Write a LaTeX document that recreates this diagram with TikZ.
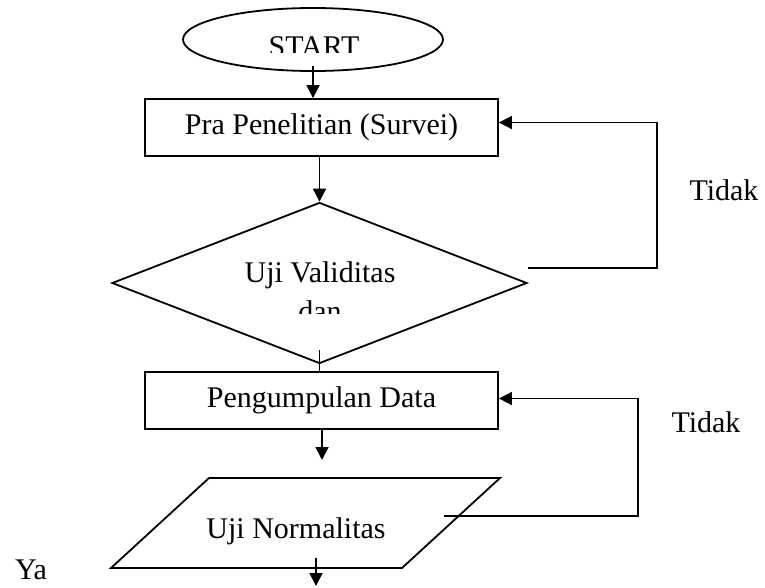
\documentclass[tikz,border=0pt]{standalone}
\usepackage{fontspec}
\setmainfont{Liberation Serif}
\usetikzlibrary{arrows.meta}
\usetikzlibrary{shapes.geometric}

\tikzset{
  procbox/.style={draw, rectangle, minimum width=353pt, minimum height=57pt, inner sep=0pt},
  lbl/.style={anchor=base, inner sep=0pt},
}

\begin{document}
\begin{tikzpicture}[x=1pt,y=-1pt,line width=1.8pt,>={Triangle[length=13pt,width=13pt]},font=\fontsize{30}{36}\selectfont]
      \useasboundingbox (0,0) rectangle (765,587);
      \node[draw,ellipse,minimum width=260pt,minimum height=63pt,inner sep=0pt] (start) at (313,39.5) {};
      \begin{scope}
        \clip (183,8) rectangle (443,52);
        \node[lbl] (starttext) at (314,56) {START};
      \end{scope}
      \node[procbox] (pra) at (321.5,127.5) {Pra Penelitian (Survei)};
      \node[draw,diamond,aspect=2.58,minimum width=415pt,minimum height=161pt,inner sep=0pt] (valid) at (319.5,283) {};
      \node[lbl] (validtext) at (320,282) {Uji Validitas};
      \begin{scope}
        \clip (200,290) rectangle (440,313);
        \node[lbl] (dantext) at (320,321) {dan};
      \end{scope}
      \node[procbox] (collect) at (321.5,400.5) {Pengumpulan Data};
      \draw (209,478) -- (500,478) -- (402,568) -- (111,568) -- cycle;
      \node[lbl] (norm) at (296,538) {Uji Normalitas};
      \draw[->] ([yshift=6pt]start.south) -- (start.south |- pra.north);
      \draw[->] (pra.south -| valid.north) -- (valid.north);
      \draw ([yshift=14pt]valid.south) -- (valid.south |- collect.north);
      \coordinate (gap) at (322,460);
      \draw[->] (collect.south -| gap) -- (gap);
      \coordinate (outstart) at (316,558);
      \coordinate (outend) at (316,586);
      \draw[->] (outstart) -- (outend);
      \coordinate (no1) at (528,268);
      \coordinate (back1) at (657,268);
      \draw[->] (no1) -- (back1) |- ([yshift=5pt]pra.east);
      \coordinate (no2) at (444,516);
      \coordinate (back2) at (638,516);
      \draw[->] (no2) -- (back2) |- ([yshift=2pt]collect.east);
      \node[lbl] (tidak1) at (724,200) {Tidak};
      \node[lbl] (tidak2) at (706,432) {Tidak};
      \node[lbl] (ya) at (31,579) {Ya};
    \end{tikzpicture}
\end{document}
